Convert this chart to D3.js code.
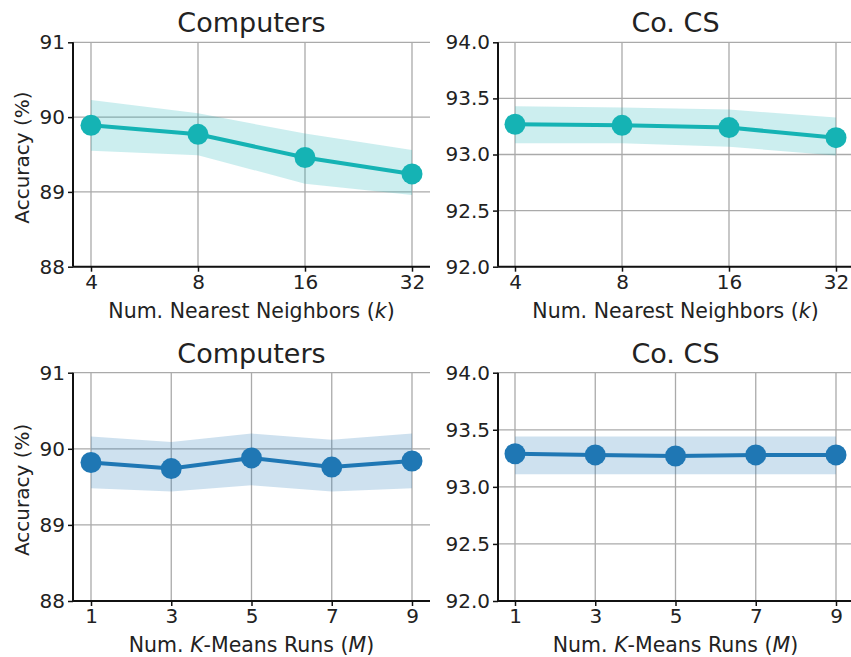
<!DOCTYPE html>
<html>
<head>
<meta charset="utf-8">
<script src="https://cdn.jsdelivr.net/npm/d3@7/dist/d3.min.js"></script>
<style>
  html, body { margin: 0; padding: 0; background: #fff; }
  svg { display: block; font-family: "DejaVu Sans", sans-serif; }
</style>
</head>
<body>
<svg id="chart" width="851" height="657"></svg>
<script>
// Sensitivity of accuracy to the number of nearest neighbours (k)
const kValues = [4, 8, 16, 32];
const kTicks = ["4", "8", "16", "32"];
const computersKMean = [89.89, 89.77, 89.46, 89.24];
const computersKLow  = [89.55, 89.49, 89.11, 88.96];
const computersKHigh = [90.23, 90.05, 89.78, 89.56];
const csKMean = [93.27, 93.26, 93.24, 93.15];
const csKLow  = [93.10, 93.10, 93.07, 92.99];
const csKHigh = [93.43, 93.42, 93.40, 93.33];

// Sensitivity to the number of K-Means runs (M)
const mValues = [1, 3, 5, 7, 9];
const mTicks = ["1", "3", "5", "7", "9"];
const computersMMean = [89.82, 89.74, 89.88, 89.76, 89.84];
const computersMLow  = [89.48, 89.44, 89.52, 89.44, 89.48];
const computersMHigh = [90.16, 90.09, 90.20, 90.12, 90.20];
const csMMean = [93.29, 93.28, 93.27, 93.28, 93.28];
const csMLow  = [93.11, 93.11, 93.11, 93.11, 93.11];
const csMHigh = [93.44, 93.44, 93.44, 93.44, 93.44];

// Axis tick values
const computersYTicks = [88, 89, 90, 91];
const csYTicks = [92.0, 92.5, 93.0, 93.5, 94.0];

const titles = ["Computers", "Co. CS"];
const yLabel = "Accuracy (%)";

const TEAL = "#15b3b4";
const BLUE = "#1f77b4";

const panels = [
  { title: titles[0], x: kValues, ticks: kTicks, mean: computersKMean, lo: computersKLow, hi: computersKHigh,
    yDomain: [88, 91], yTicks: computersYTicks, fmt: d3.format("d"), color: TEAL, log: true,
    box: { left: 73, right: 430, top: 42.3, bottom: 266.7, pad: 18 }, xlab: "k", ylab: true },
  { title: titles[1], x: kValues, ticks: kTicks, mean: csKMean, lo: csKLow, hi: csKHigh,
    yDomain: [92, 94], yTicks: csYTicks, fmt: d3.format(".1f"), color: TEAL, log: true,
    box: { left: 498, right: 853, top: 42.3, bottom: 266.7, pad: 17 }, xlab: "k", ylab: false },
  { title: titles[0], x: mValues, ticks: mTicks, mean: computersMMean, lo: computersMLow, hi: computersMHigh,
    yDomain: [88, 91], yTicks: computersYTicks, fmt: d3.format("d"), color: BLUE, log: false,
    box: { left: 73, right: 430, top: 372.7, bottom: 601, pad: 18 }, xlab: "M", ylab: true },
  { title: titles[1], x: mValues, ticks: mTicks, mean: csMMean, lo: csMLow, hi: csMHigh,
    yDomain: [92, 94], yTicks: csYTicks, fmt: d3.format(".1f"), color: BLUE, log: false,
    box: { left: 498, right: 853, top: 372.7, bottom: 601, pad: 17 }, xlab: "M", ylab: false }
];

const svg = d3.select("#chart");

panels.forEach(p => {
  const b = p.box;
  const n = p.x.length;
  const cx = (b.left + b.right) / 2;
  const x = (p.log ? d3.scaleLog().base(2) : d3.scaleLinear())
    .domain([p.x[0], p.x[n - 1]])
    .range([b.left + b.pad, b.right - b.pad]);
  const y = d3.scaleLinear().domain(p.yDomain).range([b.bottom, b.top]);

  const g = svg.append("g");

  // grid
  g.append("g").selectAll("line").data(p.yTicks).join("line")
    .attr("x1", b.left).attr("x2", b.right)
    .attr("y1", d => y(d)).attr("y2", d => y(d))
    .attr("stroke", "#aaaaaa").attr("stroke-width", 1.3);
  g.append("g").selectAll("line").data(p.x).join("line")
    .attr("x1", d => x(d)).attr("x2", d => x(d))
    .attr("y1", b.top).attr("y2", b.bottom)
    .attr("stroke", "#aaaaaa").attr("stroke-width", 1.3);

  const rows = p.x.map((v, i) => ({ v, m: p.mean[i], lo: p.lo[i], hi: p.hi[i] }));

  // confidence band
  g.append("path").datum(rows)
    .attr("d", d3.area().x(d => x(d.v)).y0(d => y(d.lo)).y1(d => y(d.hi)))
    .attr("fill", p.color).attr("fill-opacity", 0.22);

  // mean line with markers
  g.append("path").datum(rows)
    .attr("d", d3.line().x(d => x(d.v)).y(d => y(d.m)))
    .attr("fill", "none").attr("stroke", p.color).attr("stroke-width", 4);

  g.append("g").selectAll("circle").data(rows).join("circle")
    .attr("cx", d => x(d.v)).attr("cy", d => y(d.m)).attr("r", 10.5)
    .attr("fill", p.color);

  // axes
  const xAxis = d3.axisBottom(x).tickValues(p.x).tickFormat((d, i) => p.ticks[i])
    .tickSize(5).tickPadding(3);
  const xg = g.append("g").attr("transform", `translate(0,${b.bottom})`).call(xAxis);
  xg.select(".domain").attr("d", `M${b.left},0H${b.right}`).attr("stroke", "#111").attr("stroke-width", 2);
  xg.selectAll(".tick line").attr("stroke", "#111").attr("stroke-width", 1.5);
  xg.selectAll(".tick text").attr("font-size", 20).attr("fill", "#222")
    .attr("font-family", "DejaVu Sans");

  const yAxis = d3.axisLeft(y).tickValues(p.yTicks).tickFormat(p.fmt).tickSize(5).tickPadding(3);
  const yg = g.append("g").attr("transform", `translate(${b.left},0)`).call(yAxis);
  yg.select(".domain").attr("d", `M0,${b.top}V${b.bottom}`).attr("stroke", "#111").attr("stroke-width", 2);
  yg.selectAll(".tick line").attr("stroke", "#111").attr("stroke-width", 1.5);
  yg.selectAll(".tick text").attr("font-size", 20).attr("fill", "#222")
    .attr("font-family", "DejaVu Sans");

  // title
  g.append("text")
    .attr("x", cx)
    .attr("y", b.top - 10)
    .attr("text-anchor", "middle")
    .attr("font-size", 27).attr("fill", "#222")
    .text(p.title);

  // x label
  const xl = g.append("text")
    .attr("x", cx)
    .attr("y", b.bottom + 51)
    .attr("text-anchor", "middle")
    .attr("font-size", 20.5).attr("fill", "#222");
  if (p.xlab === "k") {
    xl.append("tspan").text("Num. Nearest Neighbors (");
    xl.append("tspan").attr("font-style", "italic").text("k");
    xl.append("tspan").text(")");
  } else {
    xl.append("tspan").text("Num. ");
    xl.append("tspan").attr("font-style", "italic").text("K");
    xl.append("tspan").text("-Means Runs (");
    xl.append("tspan").attr("font-style", "italic").text("M");
    xl.append("tspan").text(")");
  }

  // y label
  if (p.ylab) {
    g.append("text")
      .attr("transform", `translate(29,${(b.top + b.bottom) / 2 + 3}) rotate(-90)`)
      .attr("text-anchor", "middle")
      .attr("font-size", 20).attr("fill", "#222")
      .text(yLabel);
  }
});
</script>
</body>
</html>
